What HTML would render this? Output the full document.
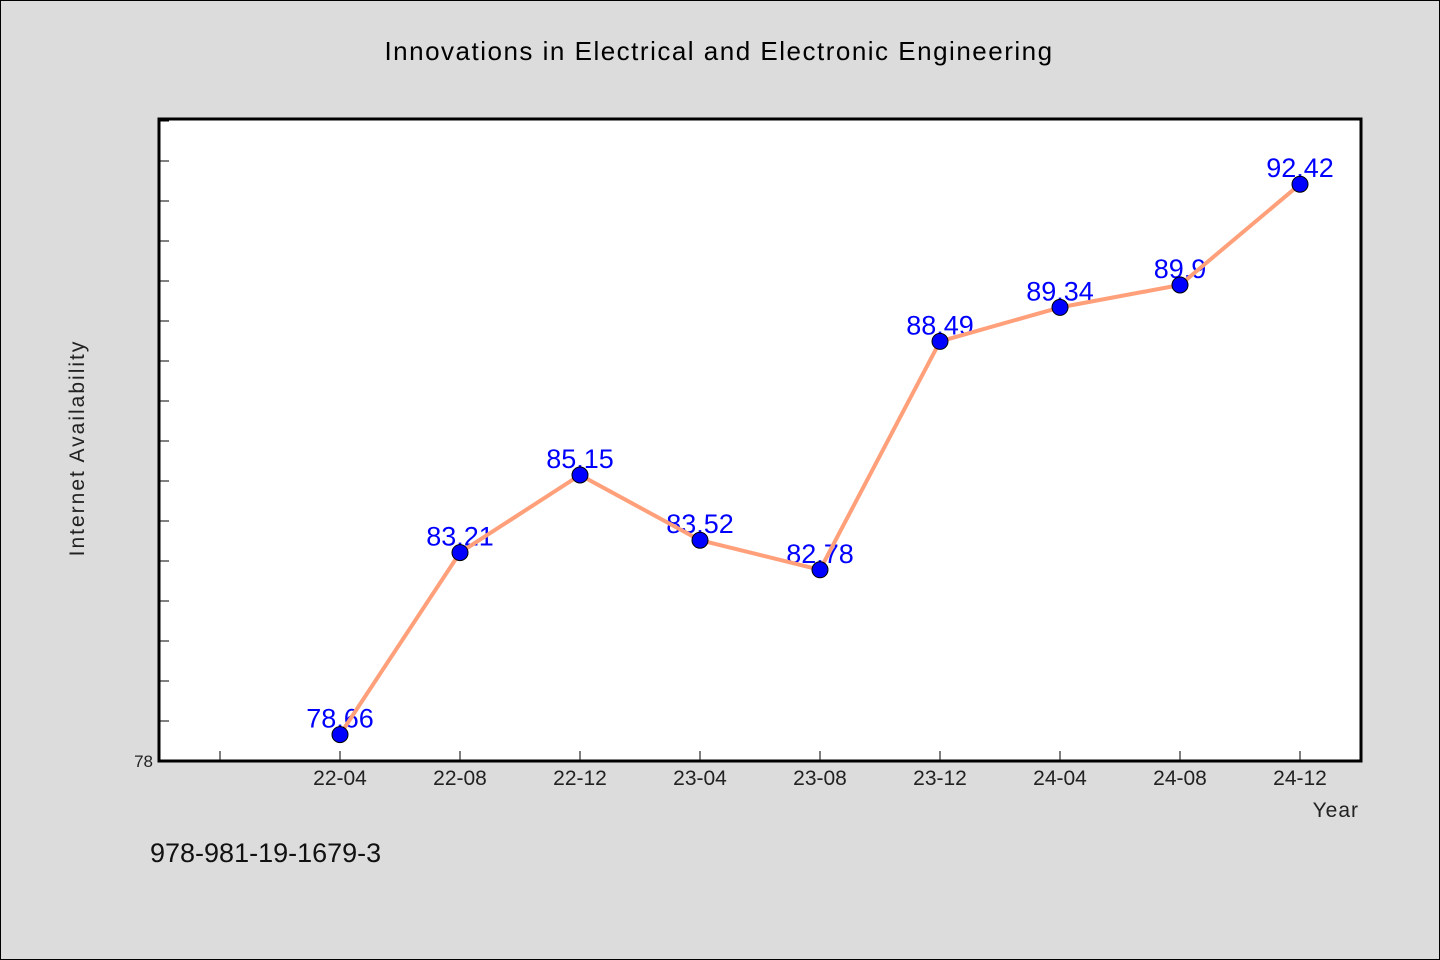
<!DOCTYPE html>
<html><head><meta charset="utf-8"><style>
html,body{margin:0;padding:0;background:#dcdcdc;}
svg{display:block;font-family:"WenQuanYi Zen Hei","Liberation Sans",sans-serif;}
</style></head><body>
<svg id="chart" width="1440" height="960" xmlns="http://www.w3.org/2000/svg">
<rect x="0.5" y="0.5" width="1439" height="959" fill="#dcdcdc" stroke="#000" stroke-width="1"/>
<text x="719" y="60" text-anchor="middle" font-size="26" letter-spacing="1.5" fill="#000">Innovations in Electrical and Electronic Engineering</text>
<rect x="159" y="119" width="1202" height="642" fill="#fff"/>
<g id="ticks"></g>
<g id="series"></g>
<rect x="159" y="119" width="1202" height="642" fill="none" stroke="#000" stroke-width="3"/>
<text x="84" y="448" transform="rotate(-90 84 448)" text-anchor="middle" font-size="21" letter-spacing="2" fill="#222">Internet Availability</text>
<text x="1359" y="817" text-anchor="end" font-size="21" letter-spacing="1" fill="#222">Year</text>
<text x="150" y="862" font-size="27" fill="#111">978-981-19-1679-3</text>
</svg>
<script>
const categories = ["22-04","22-08","22-12","23-04","23-08","23-12","24-04","24-08","24-12"];
const values = [78.66,83.21,85.15,83.52,82.78,88.49,89.34,89.9,92.42];
const valueLabels = ["78.66","83.21","85.15","83.52","82.78","88.49","89.34","89.9","92.42"];
const yTickLabels = ["78"];
const NS = "http://www.w3.org/2000/svg";
const yMin = 78, pxPerUnit = 40, yBottom = 761, yTop = 119;
function yScale(v){ return yBottom - (v - yMin) * pxPerUnit; }
function xScale(i){ return 340 + 120 * i; }
function mk(tag, attrs, parent){ const e=document.createElementNS(NS,tag); for(const k in attrs) e.setAttribute(k,attrs[k]); parent.appendChild(e); return e; }
const ticks = document.getElementById('ticks');
for (let v = yMin; yScale(v) >= yTop; v += 1) {
  const y = yScale(v);
  const t = mk('line',{x1:159,x2:169,y1:y,y2:y,stroke:'#000','stroke-width':1},ticks);
  
  
}
const yl = mk('text',{x:153,y:yScale(yMin)+6,'text-anchor':'end','font-size':17,fill:'#222'},ticks);
yl.textContent = yTickLabels[0];


for (let i = -1; i < categories.length; i++) {
  const x = xScale(i);
  const t = mk('line',{x1:x,x2:x,y1:761,y2:751,stroke:'#000','stroke-width':1},ticks);
  
  
  if (i >= 0) {
    const l = mk('text',{x:x,y:785,'text-anchor':'middle','font-size':21,fill:'#222'},ticks);
    l.textContent = categories[i];
    
    
  }
}
const series = document.getElementById('series');
values.forEach((v,i)=>{
  const l = mk('text',{x:xScale(i),y:yScale(v)-7,'text-anchor':'middle','font-size':27,fill:'#0000ff'},series);
  l.textContent = valueLabels[i];
  
  
});
const pts = values.map((v,i)=>xScale(i)+','+yScale(v)).join(' ');
const line = mk('polyline',{points:pts,fill:'none',stroke:'#ffa07a','stroke-width':4,'stroke-linejoin':'round'},series);


values.forEach((v,i)=>{
  const c = mk('circle',{cx:xScale(i),cy:yScale(v),r:8,fill:'#0000ff',stroke:'#000','stroke-width':1},series);
  
  
});
</script>
</body></html>
